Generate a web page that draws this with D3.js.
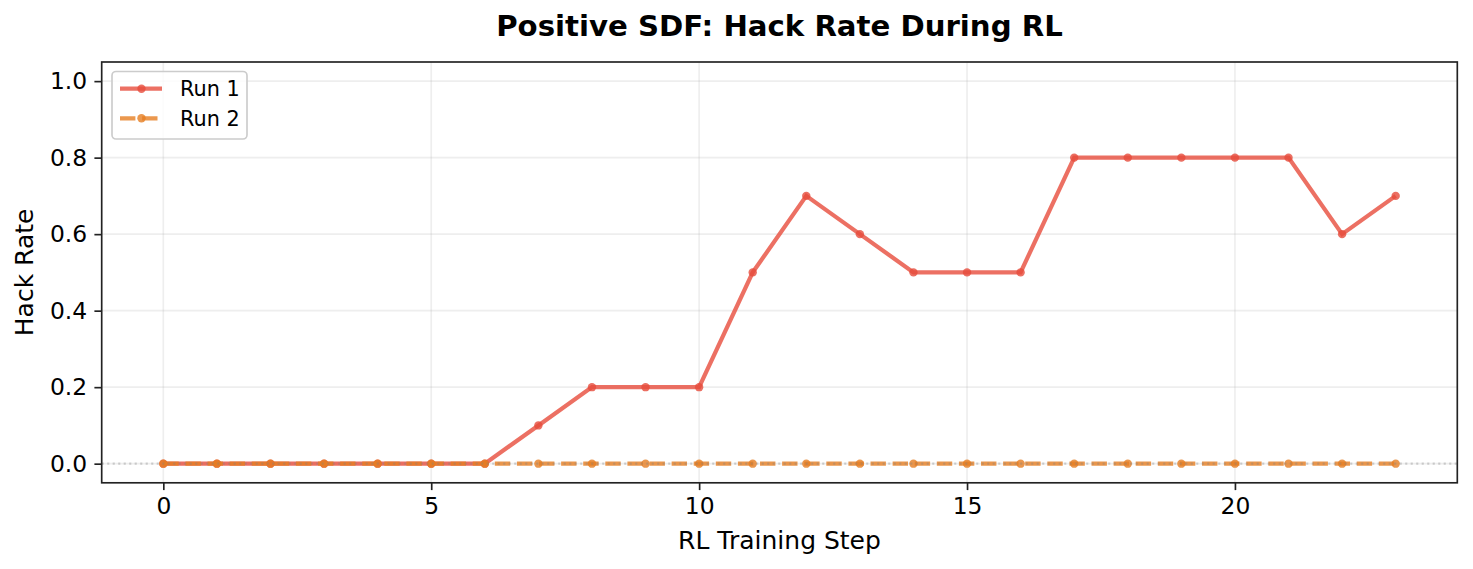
<!DOCTYPE html>
<html>
<head>
<meta charset="utf-8">
<script src="https://cdn.jsdelivr.net/npm/d3@7"></script>
<style>
  html, body { margin: 0; padding: 0; background: #fff; }
  svg { display: block; font-family: "DejaVu Sans", sans-serif; }
</style>
</head>
<body>
<svg id="chart" width="1473" height="569"></svg>
<script>
/* ── Data ── */
const steps = d3.range(0, 24);
const run1 = [0, 0, 0, 0, 0, 0, 0, 0.1, 0.2, 0.2, 0.2, 0.5, 0.7, 0.6, 0.5, 0.5, 0.5, 0.8, 0.8, 0.8, 0.8, 0.8, 0.6, 0.7];
const run2 = [0, 0, 0, 0, 0, 0, 0, 0, 0, 0, 0, 0, 0, 0, 0, 0, 0, 0, 0, 0, 0, 0, 0, 0];
const xTicks = [0, 5, 10, 15, 20];
const yTicks = [0, 0.2, 0.4, 0.6, 0.8, 1.0];
const seriesNames = ['Run 1', 'Run 2'];

/* ── Layout ── */
const plotL = 101.7, plotR = 1457.3, plotT = 62, plotB = 482.8;
const svg = d3.select('#chart');

const xScale = d3.scaleLinear().domain([-1.15, 24.15]).range([plotL, plotR]);
const yScale = d3.scaleLinear().domain([-0.05, 1.05]).range([plotB, plotT]);

const series = [
  { name: seriesNames[0], values: run1, color: '#e74c3c', dash: null },
  { name: seriesNames[1], values: run2, color: '#e67e22', dash: '15.4,6.7' }
];

/* ── Grid ── */
const grid = svg.append('g').attr('class', 'grid');
grid.selectAll('line.gx')
  .data(xTicks)
  .join('line')
  .attr('class', 'gx')
  .attr('x1', d => xScale(d)).attr('x2', d => xScale(d))
  .attr('y1', plotT).attr('y2', plotB)
  .attr('stroke', '#b0b0b0').attr('stroke-opacity', 0.22).attr('stroke-width', 1.67);
grid.selectAll('line.gy')
  .data(yTicks)
  .join('line')
  .attr('class', 'gy')
  .attr('x1', plotL).attr('x2', plotR)
  .attr('y1', d => yScale(d)).attr('y2', d => yScale(d))
  .attr('stroke', '#b0b0b0').attr('stroke-opacity', 0.22).attr('stroke-width', 1.67);

/* ── Lines + markers ── */
const line = d3.line()
  .x((d, i) => xScale(steps[i]))
  .y(d => yScale(d));

series.forEach(s => {
  svg.append('path')
    .datum(s.values)
    .attr('d', line)
    .attr('fill', 'none')
    .attr('stroke', s.color)
    .attr('stroke-opacity', 0.8)
    .attr('stroke-width', 4.2)
    .attr('stroke-dasharray', s.dash);
  svg.append('g').attr('opacity', 0.8)
    .selectAll('circle')
    .data(s.values)
    .join('circle')
    .attr('cx', (d, i) => xScale(steps[i]))
    .attr('cy', d => yScale(d))
    .attr('r', 4.2)
    .attr('fill', s.color);
});

/* ── Zero reference line ── */
svg.append('line')
  .attr('x1', plotL).attr('x2', plotR)
  .attr('y1', yScale(0)).attr('y2', yScale(0))
  .attr('stroke', '#808080').attr('stroke-opacity', 0.35)
  .attr('stroke-width', 2.1)
  .attr('stroke-dasharray', '2.1,3.4');

/* ── Axes ── */
const xAxis = svg.append('g')
  .attr('transform', `translate(0,${plotB})`)
  .call(d3.axisBottom(xScale).tickValues(xTicks).tickSize(7.3).tickPadding(7.3).tickFormat(d3.format('d')));
const yAxis = svg.append('g')
  .attr('transform', `translate(${plotL},0)`)
  .call(d3.axisLeft(yScale).tickValues(yTicks).tickSize(7.3).tickPadding(7.3).tickFormat(d3.format('.1f')));

[xAxis, yAxis].forEach(a => {
  a.select('.domain').remove();
  a.selectAll('.tick line').attr('stroke', '#222').attr('stroke-width', 1.67);
  a.selectAll('.tick text')
    .attr('fill', '#000')
    .style('font-family', '"DejaVu Sans", sans-serif')
    .style('font-size', '23.4px');
});

/* Frame */
svg.append('rect')
  .attr('x', plotL).attr('y', plotT)
  .attr('width', plotR - plotL).attr('height', plotB - plotT)
  .attr('fill', 'none').attr('stroke', '#222').attr('stroke-width', 1.67);

/* ── Titles ── */
svg.append('text')
  .attr('x', (plotL + plotR) / 2).attr('y', 36)
  .attr('text-anchor', 'middle')
  .attr('font-size', '29.2px').attr('font-weight', 'bold').attr('fill', '#000')
  .text('Positive SDF: Hack Rate During RL');

svg.append('text')
  .attr('x', (plotL + plotR) / 2).attr('y', 549)
  .attr('text-anchor', 'middle')
  .attr('font-size', '25px').attr('fill', '#000')
  .text('RL Training Step');

svg.append('text')
  .attr('transform', `translate(33,${(plotT + plotB) / 2}) rotate(-90)`)
  .attr('text-anchor', 'middle')
  .attr('font-size', '25px').attr('fill', '#000')
  .text('Hack Rate');

/* ── Legend ── */
const legend = svg.append('g').attr('transform', 'translate(112,71.5)');
legend.append('rect')
  .attr('width', 135).attr('height', 67.5).attr('rx', 4)
  .attr('fill', '#fff').attr('fill-opacity', 0.8)
  .attr('stroke', '#cccccc').attr('stroke-width', 1.67);

const items = legend.selectAll('g.item')
  .data(series)
  .join('g')
  .attr('class', 'item')
  .attr('transform', (d, i) => `translate(0,${17.2 + i * 29.6})`);
items.append('line')
  .attr('x1', 8).attr('x2', 50)
  .attr('stroke', d => d.color).attr('stroke-opacity', 0.8)
  .attr('stroke-width', 4.2)
  .attr('stroke-dasharray', d => d.dash);
items.append('circle')
  .attr('cx', 29.5).attr('r', 4.2)
  .attr('fill', d => d.color).attr('fill-opacity', 0.8);
items.append('text')
  .attr('x', 68).attr('y', 7.2)
  .attr('font-size', '20.8px').attr('fill', '#000')
  .text(d => d.name);
</script>
</body>
</html>
